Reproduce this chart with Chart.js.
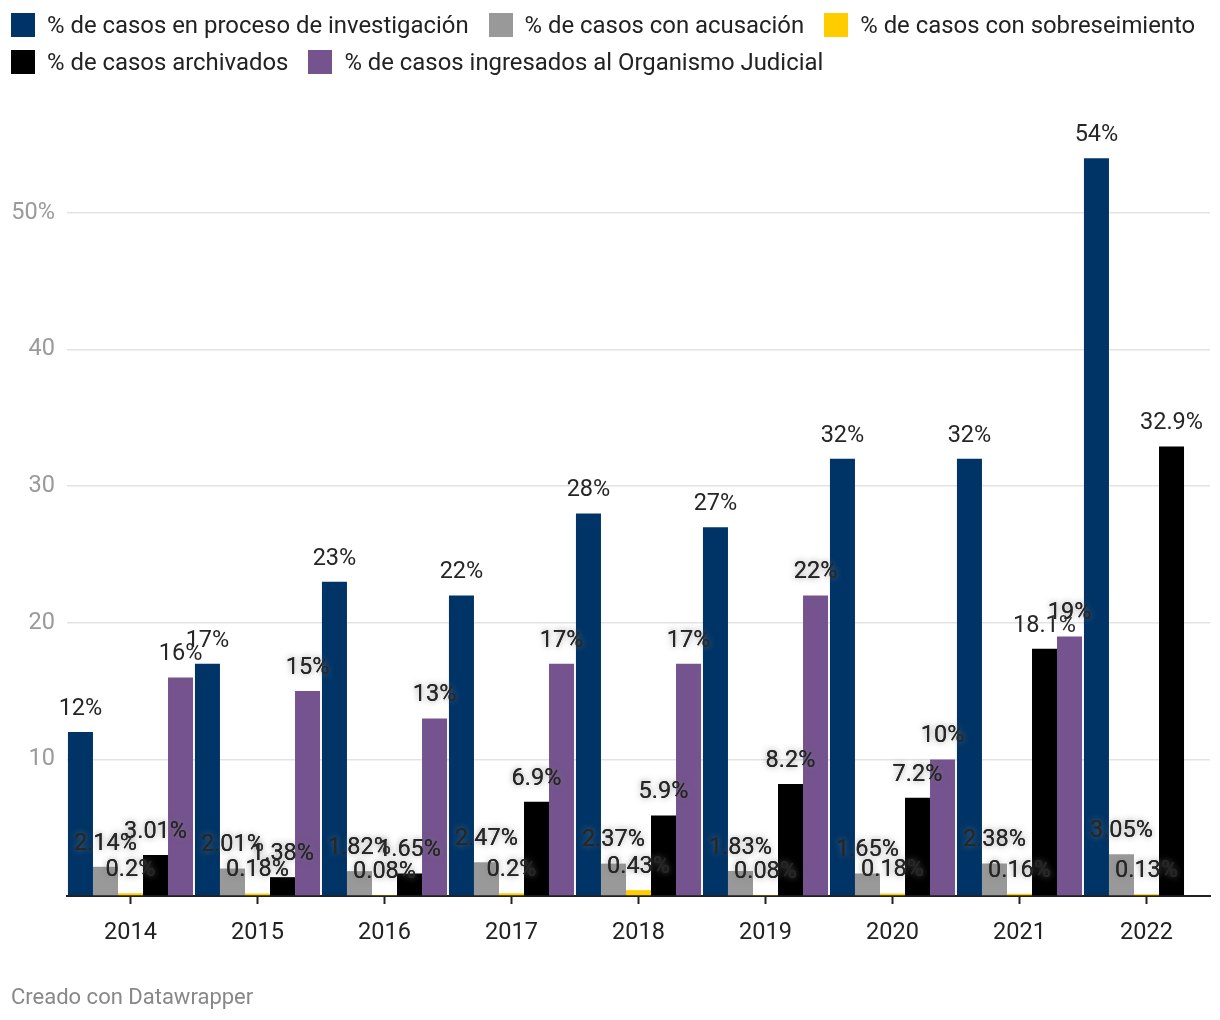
<!DOCTYPE html>
<html>
<head>
<meta charset="utf-8">
<script src="https://cdn.jsdelivr.net/npm/chart.js@4/dist/chart.umd.min.js"></script>
<style>
  html, body { margin: 0; padding: 0; background: #fff; }
  body { width: 1220px; height: 1020px; position: relative; overflow: hidden; font-family: Roboto, sans-serif; }
  #legend { position: absolute; left: 11px; top: 13px; width: 1209px; display: flex; flex-wrap: wrap; row-gap: 13px; column-gap: 20px; }
  .item { display: flex; align-items: center; height: 24px; }
  .box { width: 24px; height: 24px; margin-right: 12px; flex: none; }
  .txt { font-size: 23.9px; color: #222; white-space: nowrap; }
  #wrap { position: absolute; left: 0; top: 0; width: 1220px; height: 1020px; }
  #footer { position: absolute; left: 11px; top: 984px; font-size: 22px; color: #888; }
</style>
</head>
<body>
<div id="wrap"><canvas id="c" width="1220" height="1020"></canvas></div>
<div id="legend"></div>
<div id="footer">Creado con Datawrapper</div>
<script>
const years = ['2014','2015','2016','2017','2018','2019','2020','2021','2022'];
const seriesNames = [
  '% de casos en proceso de investigación',
  '% de casos con acusación',
  '% de casos con sobreseimiento',
  '% de casos archivados',
  '% de casos ingresados al Organismo Judicial'
];
const investigacion = [12, 17, 23, 22, 28, 27, 32, 32, 54];
const acusacion = [2.14, 2.01, 1.82, 2.47, 2.37, 1.83, 1.65, 2.38, 3.05];
const sobreseimiento = [0.2, 0.18, 0.08, 0.2, 0.43, 0.08, 0.18, 0.16, 0.13];
const archivados = [3.01, 1.38, 1.65, 6.9, 5.9, 8.2, 7.2, 18.1, 32.9];
const ingresados = [16, 15, 13, 17, 17, 22, 10, 19, null];
const yTicks = [0, 10, 20, 30, 40, 50];
const colors = ['#013466', '#999999', '#ffcc00', '#000000', '#74538f'];

const allSeries = [investigacion, acusacion, sobreseimiento, archivados, ingresados];

// HTML legend
const leg = document.getElementById('legend');
seriesNames.forEach((n, i) => {
  const it = document.createElement('div'); it.className = 'item';
  const b = document.createElement('div'); b.className = 'box'; b.style.background = colors[i];
  const t = document.createElement('div'); t.className = 'txt'; t.textContent = n;
  it.appendChild(b); it.appendChild(t); leg.appendChild(it);
});

const FONT = 'Roboto, sans-serif';

const labelPlugin = {
  id: 'barLabels',
  afterDatasetsDraw(chart) {
    const ctx = chart.ctx;
    const flat = [];
    for (let c = 0; c < years.length; c++) {
      for (let d = 0; d < allSeries.length; d++) {
        const v = allSeries[d][c];
        const el = chart.getDatasetMeta(d).data[c];
        flat.push({ v, el, d });
      }
    }
    ctx.save();
    ctx.font = '23.5px ' + FONT;
    ctx.textAlign = 'center';
    ctx.textBaseline = 'middle';
    flat.forEach((o, k) => {
      if (o.v === null || o.v === undefined) return;
      const x = o.el.x, ly = o.el.y - 23;
      let glow = false;
      [flat[k - 1], flat[k + 1]].forEach(n => {
        if (n && n.v !== null && n.v !== undefined && ly > n.el.y) glow = true;
      });
      const txt = o.v + '%';
      if (glow) {
        ctx.shadowColor = 'rgba(120,120,120,0.8)';
        ctx.shadowBlur = 6;
        ctx.fillStyle = '#333';
        ctx.fillText(txt, x, ly);
        ctx.shadowBlur = 0; ctx.shadowColor = 'rgba(0,0,0,0)';
      }
      ctx.fillStyle = '#262626';
      ctx.fillText(txt, x, ly);
    });
    ctx.restore();
  }
};

new Chart(document.getElementById('c'), {
  type: 'bar',
  data: {
    labels: years,
    datasets: allSeries.map((s, i) => ({
      label: seriesNames[i],
      data: s,
      backgroundColor: colors[i],
      borderWidth: 0,
      categoryPercentage: 0.985,
      barPercentage: 1
    }))
  },
  options: {
    responsive: false,
    animation: false,
    devicePixelRatio: 1,
    layout: { padding: { left: 10, right: 10, top: 131, bottom: 60 } },
    plugins: { legend: { display: false }, tooltip: { enabled: false } },
    scales: {
      x: {
        grid: { display: true, drawOnChartArea: false, offset: false, tickLength: 8, tickWidth: 2, tickColor: '#222' },
        border: { display: true, color: '#222', width: 2 },
        ticks: { color: '#222', font: { family: FONT, size: 23.5 }, padding: 15, maxRotation: 0 },
        afterFit(scale) { scale.height = 64; }
      },
      y: {
        min: 0, max: 56,
        afterBuildTicks(scale) { scale.ticks = yTicks.map(v => ({ value: v })); },
        grid: {
          drawTicks: false,
          lineWidth: 1.5,
          color: ctx => (ctx.tick && ctx.tick.value === 0) ? 'rgba(0,0,0,0)' : '#e3e3e3'
        },
        border: { display: false },
        ticks: {
          color: '#9a9a9a', font: { family: FONT, size: 23.5 }, padding: 12,
          callback: v => v === 0 ? '' : (v === 50 ? '50%' : String(v))
        },
        afterFit(scale) { scale.width = 57; }
      }
    }
  },
  plugins: [labelPlugin]
});
</script>
</body>
</html>
